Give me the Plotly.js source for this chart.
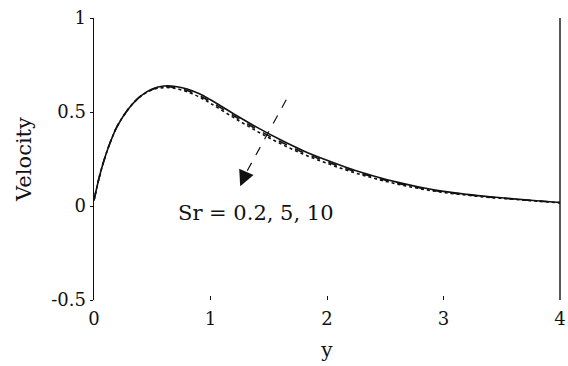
<!DOCTYPE html>
<html>
<head>
<meta charset="utf-8">
<script src="https://cdn.plot.ly/plotly-3.0.1.min.js"></script>
<style>
  html, body { margin: 0; padding: 0; background: #fff; }
  #chart { width: 568px; height: 366px; }
</style>
</head>
<body>
<div id="chart"></div>
<script>
// Similarity variable y
const yGrid = [0, 0.05, 0.1, 0.15, 0.2, 0.3, 0.4, 0.5, 0.6, 0.7, 0.8, 0.9, 1.0, 1.2, 1.4, 1.6, 1.8, 2.0, 2.2, 2.4, 2.6, 2.8, 3.0, 3.2, 3.4, 3.6, 3.8, 4.0];

// Velocity profiles for three Soret numbers
const velSr02 = [0.03, 0.165, 0.27, 0.355, 0.425, 0.52, 0.585, 0.622, 0.638, 0.636, 0.622, 0.598, 0.565, 0.49, 0.418, 0.352, 0.293, 0.243, 0.198, 0.16, 0.127, 0.1, 0.078, 0.062, 0.049, 0.038, 0.028, 0.019];
const velSr5  = [0.03, 0.165, 0.27, 0.355, 0.425, 0.52, 0.584, 0.62, 0.634, 0.63, 0.614, 0.589, 0.555, 0.48, 0.407, 0.342, 0.284, 0.235, 0.191, 0.154, 0.122, 0.096, 0.075, 0.06, 0.047, 0.037, 0.027, 0.018];
const velSr10 = [0.03, 0.165, 0.27, 0.355, 0.425, 0.52, 0.583, 0.618, 0.63, 0.625, 0.607, 0.581, 0.546, 0.47, 0.397, 0.332, 0.275, 0.227, 0.184, 0.148, 0.117, 0.092, 0.072, 0.058, 0.045, 0.036, 0.026, 0.017];

const seriesNames = ['Sr = 0.2', 'Sr = 5', 'Sr = 10'];
const xTicks = [0, 1, 2, 3, 4];
const yTicks = [-0.5, 0, 0.5, 1];
const yTickText = ['-0.5', '0', '0.5', '1'];
const arrowLabel = 'Sr = 0.2, 5, 10';

// Direction arrow (tail -> head) in data units
const arrowTail = [1.65, 0.565];
const arrowNeck = [1.30, 0.17];
const arrowHead = [1.255, 0.105];

const serif = 'DejaVu Serif, Liberation Serif, serif';
const ink = '#111';

const dashes = ['solid', 'dash', 'dot'];
const profiles = [velSr02, velSr5, velSr10];

const traces = profiles.map((v, i) => ({
  x: yGrid,
  y: v,
  name: seriesNames[i],
  type: 'scatter',
  mode: 'lines',
  line: { color: ink, width: 1.6, dash: dashes[i], shape: 'spline', smoothing: 1 },
  showlegend: false,
  hoverinfo: 'skip'
}));

const layout = {
  width: 568,
  height: 366,
  margin: { l: 94, r: 8, t: 18, b: 66 },
  paper_bgcolor: '#fff',
  plot_bgcolor: '#fff',
  font: { family: serif, color: ink, size: 18 },
  xaxis: {
    range: [0, 4],
    tickvals: xTicks,
    ticktext: xTicks.map(String),
    ticks: 'inside',
    ticklen: 4,
    tickcolor: ink,
    ticklabelstandoff: 6,
    showline: false,
    showgrid: false,
    zeroline: false,
    tickfont: { family: serif, size: 18, color: ink },
    title: { text: 'y', font: { family: serif, size: 20, color: ink }, standoff: 14 }
  },
  yaxis: {
    range: [-0.5, 1],
    tickvals: yTicks,
    ticktext: yTickText,
    ticks: 'outside',
    ticklen: 3,
    tickcolor: ink,
    showline: true,
    linecolor: ink,
    linewidth: 1.4,
    mirror: false,
    showgrid: false,
    zeroline: false,
    tickfont: { family: serif, size: 18, color: ink },
    title: { text: 'Velocity', font: { family: serif, size: 21, color: ink }, standoff: 14 }
  },
  shapes: [
    {
      // right frame edge
      type: 'line',
      xref: 'paper', yref: 'paper',
      x0: 1, x1: 1, y0: 0, y1: 1,
      line: { color: ink, width: 1.4 }
    },
    {
      type: 'line',
      xref: 'x', yref: 'y',
      x0: arrowTail[0], y0: arrowTail[1],
      x1: arrowNeck[0], y1: arrowNeck[1],
      line: { color: ink, width: 1.2, dash: 'dash' }
    }
  ],
  annotations: [
    {
      xref: 'x', yref: 'y', axref: 'x', ayref: 'y',
      x: arrowHead[0], y: arrowHead[1],
      ax: arrowNeck[0], ay: arrowNeck[1],
      text: '',
      showarrow: true,
      arrowhead: 2,
      arrowsize: 2.4,
      arrowwidth: 1.3,
      arrowcolor: ink
    },
    {
      xref: 'x', yref: 'y',
      x: 1.39, y: -0.035,
      text: arrowLabel,
      showarrow: false,
      font: { family: serif, size: 21, color: ink },
      xanchor: 'center', yanchor: 'middle'
    }
  ]
};

Plotly.newPlot('chart', traces, layout, { staticPlot: true, displayModeBar: false });
</script>
</body>
</html>
